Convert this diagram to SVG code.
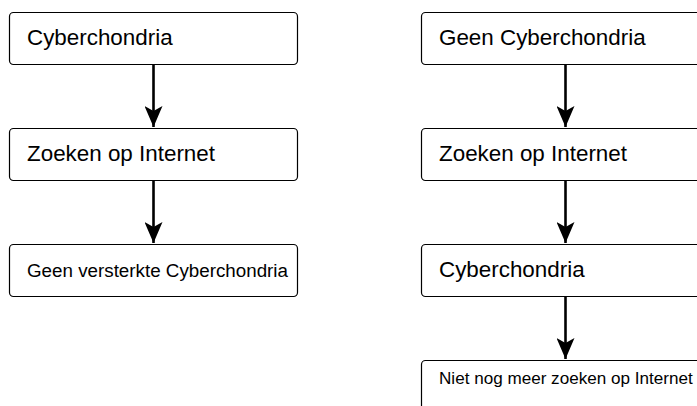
<svg xmlns="http://www.w3.org/2000/svg" width="697" height="406" viewBox="0 0 697 406">
  <style>
    .box { fill: #ffffff; stroke: #000000; stroke-width: 1.2; }
    .lbl { font-family: "Liberation Sans", Arial, sans-serif; fill: #000000; }
    .big { font-size: 22.4px; }
    .mid { font-size: 18.8px; }
    .sml { font-size: 17.1px; }
    .edge { stroke: #000000; stroke-width: 2.6; fill: none; marker-end: url(#head); }
  </style>
  <defs>
    <!-- notched arrowhead, drawn pointing along +x so orient="auto" turns it with the line -->
    <marker id="head" markerUnits="userSpaceOnUse" markerWidth="22" markerHeight="18" refX="21" refY="9" orient="auto" viewBox="0 0 22 18">
      <path d="M21 9 L0 0 L5 9 L0 18 Z" fill="#000000"/>
    </marker>
  </defs>
  <rect width="697" height="406" fill="#ffffff"/>

  <!-- left column -->
  <g id="l-cyberchondria">
    <rect class="box" x="9.5" y="12.5" width="288" height="52" rx="4"/>
    <text class="lbl big" x="27" y="45">Cyberchondria</text>
  </g>
  <g id="l-zoeken">
    <rect class="box" x="9.5" y="128.5" width="288" height="52" rx="4"/>
    <text class="lbl big" x="27" y="161">Zoeken op Internet</text>
  </g>
  <g id="l-geen-versterkte">
    <rect class="box" x="9.5" y="244.5" width="288" height="52" rx="4"/>
    <text class="lbl mid" x="27" y="277">Geen versterkte Cyberchondria</text>
  </g>

  <!-- right column -->
  <g id="r-geen-cyberchondria">
    <rect class="box" x="421.5" y="12.5" width="288" height="52" rx="4"/>
    <text class="lbl big" x="439" y="45">Geen Cyberchondria</text>
  </g>
  <g id="r-zoeken">
    <rect class="box" x="421.5" y="128.5" width="288" height="52" rx="4"/>
    <text class="lbl big" x="439" y="161">Zoeken op Internet</text>
  </g>
  <g id="r-cyberchondria">
    <rect class="box" x="421.5" y="244.5" width="288" height="52" rx="4"/>
    <text class="lbl big" x="439" y="277">Cyberchondria</text>
  </g>
  <g id="r-niet-meer">
    <rect class="box" x="421.5" y="360.5" width="288" height="52" rx="4"/>
    <text class="lbl sml" x="439" y="384">Niet nog meer zoeken op Internet</text>
  </g>

  <!-- connectors -->
  <g id="connectors">
    <line class="edge" x1="153.5" y1="65" x2="153.5" y2="127"/>
    <line class="edge" x1="153.5" y1="181" x2="153.5" y2="243"/>
    <line class="edge" x1="565.5" y1="65" x2="565.5" y2="127"/>
    <line class="edge" x1="565.5" y1="181" x2="565.5" y2="243"/>
    <line class="edge" x1="565.5" y1="297" x2="565.5" y2="359"/>
  </g>
</svg>
